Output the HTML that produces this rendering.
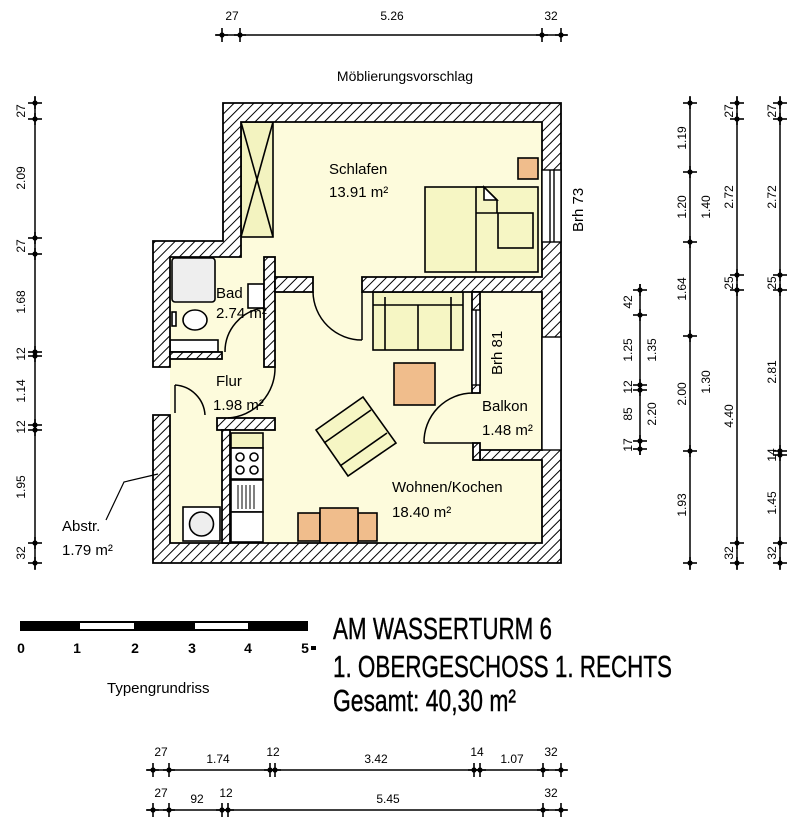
<!DOCTYPE html>
<html><head><meta charset="utf-8"><style>
html,body{margin:0;padding:0;background:#fff;}
svg{display:block;font-family:"Liberation Sans",Arial,sans-serif;}
</style></head><body>
<svg width="800" height="826" viewBox="0 0 800 826" xmlns="http://www.w3.org/2000/svg">
<defs>
<pattern id="h" patternUnits="userSpaceOnUse" width="7" height="7" patternTransform="rotate(45)">
<rect width="7" height="7" fill="#fff"/><line x1="0" y1="0" x2="0" y2="7" stroke="#000" stroke-width="2"/>
</pattern>
<g id="tk"><line x1="-6" y1="0" x2="6" y2="0" stroke="#000" stroke-width="1.6"/><line x1="0" y1="-7" x2="0" y2="7" stroke="#000" stroke-width="1.6"/><circle r="2.6" fill="#000"/></g>
<g id="tv"><line x1="0" y1="-6" x2="0" y2="6" stroke="#000" stroke-width="1.6"/><line x1="-7" y1="0" x2="7" y2="0" stroke="#000" stroke-width="1.6"/><circle r="2.6" fill="#000"/></g>
</defs>

<g fill="#fdfbdc">
<rect x="241" y="122" width="301" height="160"/>
<rect x="170" y="257" width="372" height="286"/>
</g>

<g stroke="#000" stroke-width="1.6">
<rect x="241" y="122" width="32" height="115" fill="#f3f3c0"/>
<line x1="241" y1="122" x2="273" y2="237"/><line x1="273" y1="122" x2="241" y2="237"/>
<rect x="425" y="187" width="113" height="85" fill="#f6f6c4"/>
<path d="M476 187 L476 272 M476 187 h8 l13 13 v13 h-21" fill="none"/>
<path d="M484 187 v13 h13 z" fill="#fff"/>
<rect x="498" y="213" width="35" height="35" fill="#f6f6c4"/>
<rect x="518" y="158" width="20" height="21" fill="#f0bd8c"/>
<rect x="373" y="292" width="90" height="58" fill="#f6f6c4"/>
<line x1="385" y1="297" x2="385" y2="350"/><line x1="451" y1="297" x2="451" y2="350"/><line x1="418" y1="305" x2="418" y2="350"/>
<line x1="373" y1="305" x2="463" y2="305"/>
<rect x="394" y="363" width="41" height="42" fill="#f0bd8c"/>
<path d="M316 430 L363 397 L396 443 L348 476 Z" fill="#f6f6c4"/>
<path d="M324 443 L371 410 M340 466 L387 433" fill="none"/>
<rect x="298" y="513" width="22" height="28" fill="#f0bd8c"/>
<rect x="358" y="513" width="19" height="28" fill="#f0bd8c"/>
<rect x="320" y="508" width="38" height="35" fill="#f0bd8c"/>
<rect x="231" y="433" width="32" height="15" fill="#f3f3c0"/>
<rect x="231" y="448" width="32" height="31" fill="#fff"/>
<circle cx="240" cy="457" r="4" fill="#fff"/><circle cx="254" cy="457" r="4" fill="#fff"/><circle cx="240" cy="470" r="4" fill="#fff"/><circle cx="254" cy="470" r="4" fill="#fff"/>
<rect x="231" y="480" width="32" height="32" fill="#fff"/>
<path d="M238 485v24M242 485v24M246 485v24M250 485v24M254 485v24" stroke-width="1"/>
<rect x="231" y="512" width="32" height="30" fill="#fff"/>
<rect x="183" y="507" width="37" height="34" fill="#fff"/>
<circle cx="201.5" cy="524" r="12" fill="#eee"/>
<rect x="172" y="258" width="43" height="44" fill="#eee" rx="3"/>
<ellipse cx="195" cy="320" rx="12" ry="10" fill="#fff"/><rect x="172" y="312" width="4" height="14" fill="#fff"/>
<rect x="170" y="340" width="48" height="12" fill="#fff"/>
<rect x="248" y="284" width="16" height="24" fill="#fff"/>
</g>

<g fill="url(#h)" stroke="#000" stroke-width="1.8">
<path d="M223 103 H561 V563 H153 V415 H170 V543 H542 V460 H480 V450 H542 V292 H362 V277 H542 V122 H241 V257 H170 V367 H153 V241 H223 Z"/>
<rect x="264" y="257" width="11" height="110"/>
<rect x="275" y="277" width="38" height="15"/>
<rect x="170" y="352" width="52" height="7"/>
<rect x="217" y="418" width="58" height="12"/>
<rect x="222" y="430" width="8" height="113"/>
<rect x="472" y="292" width="8" height="101"/>
<rect x="473" y="443" width="7" height="17"/>
</g>
<g fill="#fff" stroke="#000" stroke-width="1.4">
<rect x="542" y="170" width="19" height="72"/><line x1="550" y1="170" x2="550" y2="242"/><line x1="554" y1="170" x2="554" y2="242"/>
<rect x="542" y="337" width="19" height="113"/>
<rect x="472" y="310" width="8" height="75"/><line x1="476" y1="310" x2="476" y2="385"/>
</g>
<g fill="none" stroke="#000" stroke-width="1.5">
<line x1="362" y1="292" x2="362" y2="340"/><path d="M313 292 A49 49 0 0 0 362 340"/>
<path d="M263 308 A44 44 0 0 0 225 352"/>
<line x1="175" y1="385" x2="175" y2="413"/><path d="M175 385 A32 32 0 0 1 205 415"/>
<path d="M275 367 A50 50 0 0 1 228 418"/>
<line x1="424" y1="443" x2="473" y2="443"/><path d="M424 443 A49 49 0 0 1 473 393"/>
<path d="M106 520 L124 482 L158 474" stroke-width="1.2"/>
</g>

<g font-size="15" fill="#000">
<text x="329" y="174">Schlafen</text><text x="329" y="197">13.91 m²</text>
<text x="216" y="298">Bad</text><text x="216" y="318">2.74 m²</text>
<text x="216" y="386">Flur</text><text x="213" y="410">1.98 m²</text>
<text x="482" y="411">Balkon</text><text x="482" y="435">1.48 m²</text>
<text x="392" y="492">Wohnen/Kochen</text><text x="392" y="517">18.40 m²</text>
<text x="62" y="531">Abstr.</text><text x="62" y="555">1.79 m²</text>
<text transform="translate(583,232) rotate(-90)">Brh 73</text>
<text transform="translate(502,375) rotate(-90)">Brh 81</text>
<text x="405" y="81" text-anchor="middle" font-size="14">Möblierungsvorschlag</text>
<text x="107" y="693" font-size="15">Typengrundriss</text>
</g>

<g font-size="31" fill="#000" stroke="#000" stroke-width="0.4">
<text x="333" y="639" textLength="219" lengthAdjust="spacingAndGlyphs">AM WASSERTURM 6</text>
<text x="333" y="677" textLength="339" lengthAdjust="spacingAndGlyphs">1. OBERGESCHOSS 1. RECHTS</text>
<text x="333" y="711" textLength="183" lengthAdjust="spacingAndGlyphs">Gesamt: 40,30 m²</text>
</g>

<rect x="20" y="621" width="288" height="10" fill="#000"/>
<rect x="80" y="623" width="54" height="6" fill="#fff"/>
<rect x="195" y="623" width="53" height="6" fill="#fff"/>
<g font-size="14" font-weight="bold" text-anchor="middle">
<text x="21" y="653">0</text><text x="77" y="653">1</text><text x="135" y="653">2</text><text x="192" y="653">3</text><text x="248" y="653">4</text><text x="305" y="653">5</text>
</g>
<rect x="311" y="646" width="5" height="4" fill="#000"/>

<g stroke="#000" stroke-width="1.5">
<line x1="215" y1="35" x2="568" y2="35"/>
<line x1="146" y1="770" x2="568" y2="770"/>
<line x1="146" y1="810" x2="568" y2="810"/>
<line x1="35" y1="96" x2="35" y2="570"/>
<line x1="690" y1="96" x2="690" y2="570"/>
<line x1="737" y1="96" x2="737" y2="570"/>
<line x1="780" y1="96" x2="780" y2="570"/>
<line x1="640" y1="284" x2="640" y2="455"/>
</g>
<g>
<use href="#tk" x="222" y="35"/><use href="#tk" x="240" y="35"/><use href="#tk" x="542" y="35"/><use href="#tk" x="561" y="35"/>
<use href="#tk" x="153" y="770"/><use href="#tk" x="169" y="770"/><use href="#tk" x="270" y="770"/><use href="#tk" x="275" y="770"/><use href="#tk" x="474" y="770"/><use href="#tk" x="480" y="770"/><use href="#tk" x="543" y="770"/><use href="#tk" x="561" y="770"/>
<use href="#tk" x="153" y="810"/><use href="#tk" x="169" y="810"/><use href="#tk" x="222" y="810"/><use href="#tk" x="228" y="810"/><use href="#tk" x="543" y="810"/><use href="#tk" x="561" y="810"/>
<use href="#tv" x="35" y="103"/><use href="#tv" x="35" y="119"/><use href="#tv" x="35" y="238"/><use href="#tv" x="35" y="254"/><use href="#tv" x="35" y="352"/><use href="#tv" x="35" y="356"/><use href="#tv" x="35" y="425"/><use href="#tv" x="35" y="430"/><use href="#tv" x="35" y="543"/><use href="#tv" x="35" y="563"/>
<use href="#tv" x="690" y="103"/><use href="#tv" x="690" y="172"/><use href="#tv" x="690" y="242"/><use href="#tv" x="690" y="336"/><use href="#tv" x="690" y="451"/><use href="#tv" x="690" y="563"/>
<use href="#tv" x="737" y="103"/><use href="#tv" x="737" y="119"/><use href="#tv" x="737" y="275"/><use href="#tv" x="737" y="290"/><use href="#tv" x="737" y="543"/><use href="#tv" x="737" y="563"/>
<use href="#tv" x="780" y="103"/><use href="#tv" x="780" y="119"/><use href="#tv" x="780" y="275"/><use href="#tv" x="780" y="290"/><use href="#tv" x="780" y="451"/><use href="#tv" x="780" y="455"/><use href="#tv" x="780" y="543"/><use href="#tv" x="780" y="563"/>
<use href="#tv" x="640" y="290"/><use href="#tv" x="640" y="315"/><use href="#tv" x="640" y="385"/><use href="#tv" x="640" y="390"/><use href="#tv" x="640" y="441"/><use href="#tv" x="640" y="449"/>
</g>
<g font-size="12" fill="#000" text-anchor="middle">
<text x="232" y="20">27</text><text x="392" y="20">5.26</text><text x="551" y="20">32</text>
<text x="161" y="756">27</text><text x="218" y="763">1.74</text><text x="273" y="756">12</text><text x="376" y="763">3.42</text><text x="477" y="756">14</text><text x="512" y="763">1.07</text><text x="551" y="756">32</text>
<text x="161" y="797">27</text><text x="197" y="803">92</text><text x="226" y="797">12</text><text x="388" y="803">5.45</text><text x="551" y="797">32</text>
<g transform="translate(25,0)">
<text transform="translate(0,111) rotate(-90)">27</text><text transform="translate(0,178) rotate(-90)">2.09</text><text transform="translate(0,246) rotate(-90)">27</text><text transform="translate(0,302) rotate(-90)">1.68</text><text transform="translate(0,354) rotate(-90)">12</text><text transform="translate(0,391) rotate(-90)">1.14</text><text transform="translate(0,427) rotate(-90)">12</text><text transform="translate(0,487) rotate(-90)">1.95</text><text transform="translate(0,553) rotate(-90)">32</text>
</g>
<g transform="translate(686,0)">
<text transform="translate(0,138) rotate(-90)">1.19</text><text transform="translate(0,207) rotate(-90)">1.20</text><text transform="translate(0,289) rotate(-90)">1.64</text><text transform="translate(0,394) rotate(-90)">2.00</text><text transform="translate(0,505) rotate(-90)">1.93</text>
</g>
<g transform="translate(710,0)">
<text transform="translate(0,207) rotate(-90)">1.40</text><text transform="translate(0,382) rotate(-90)">1.30</text>
</g>
<g transform="translate(733,0)">
<text transform="translate(0,111) rotate(-90)">27</text><text transform="translate(0,197) rotate(-90)">2.72</text><text transform="translate(0,283) rotate(-90)">25</text><text transform="translate(0,416) rotate(-90)">4.40</text><text transform="translate(0,553) rotate(-90)">32</text>
</g>
<g transform="translate(776,0)">
<text transform="translate(0,111) rotate(-90)">27</text><text transform="translate(0,197) rotate(-90)">2.72</text><text transform="translate(0,283) rotate(-90)">25</text><text transform="translate(0,372) rotate(-90)">2.81</text><text transform="translate(0,455) rotate(-90)">14</text><text transform="translate(0,503) rotate(-90)">1.45</text><text transform="translate(0,553) rotate(-90)">32</text>
</g>
<g transform="translate(632,0)">
<text transform="translate(0,302) rotate(-90)">42</text><text transform="translate(0,350) rotate(-90)">1.25</text><text transform="translate(0,387) rotate(-90)">12</text><text transform="translate(0,414) rotate(-90)">85</text><text transform="translate(0,445) rotate(-90)">17</text>
</g>
<g transform="translate(656,0)">
<text transform="translate(0,350) rotate(-90)">1.35</text><text transform="translate(0,414) rotate(-90)">2.20</text>
</g>
</g>
</svg>
</body></html>
